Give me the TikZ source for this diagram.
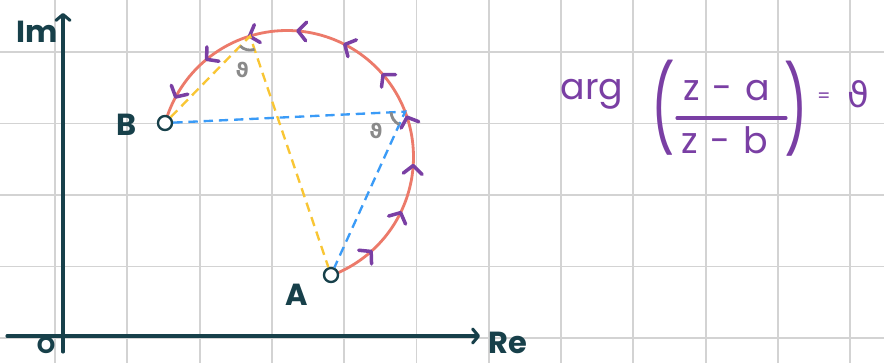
\documentclass[tikz,border=0pt]{standalone}
\usepackage{fontspec}
\setmainfont{Poppins}
\newfontfamily\thetafont{DejaVu Sans}
\usepackage{graphicx}
\usepackage{tikz}
\usetikzlibrary{arrows.meta, decorations.markings, angles}
\definecolor{axiscolor}{HTML}{17404A}
\definecolor{arccolor}{HTML}{EC7A6A}
\definecolor{tipcolor}{HTML}{7A3FA4}
\definecolor{chordyellow}{HTML}{F9C634}
\definecolor{chordblue}{HTML}{3A9BF7}
\definecolor{markcolor}{HTML}{8A8A8A}
\definecolor{gridcolor}{HTML}{D3D3D3}

\begin{document}
\begin{tikzpicture}[
  x=0.03cm, y=-0.03cm,
  gridline/.style={draw=gridcolor, line width=1.6pt},
  axis/.style={draw=axiscolor, line width=2.6pt, line cap=round,
    -{Straight Barb[length=5pt, width=12pt, round]}},
  axislabel/.style={text=axiscolor, font=\fontsize{26}{30}\selectfont\bfseries},
  point/.style={circle, draw=axiscolor, line width=2pt, fill=white,
    inner sep=0pt, minimum size=12pt},
  locus/.style={draw=arccolor, line width=2.4pt, postaction={decorate},
    decoration={markings, mark=between positions 0.094 and 0.95 step 0.095 with
      {\arrow{Straight Barb[length=7pt, width=16pt, line width=3pt, round, color=tipcolor]}}}},
  chord/.style={line width=2pt, dash pattern=on 8pt off 5pt},
  anglemark/.style={draw=markcolor, line width=2.4pt, angle radius=12pt,
    angle eccentricity=2.5, text=markcolor, font=\fontsize{17}{20}\thetafont\bfseries},
  formula/.style={text=tipcolor, font=\fontsize{31}{36}\selectfont},
  paren/.style={text=tipcolor, font=\fontsize{44}{48}\selectfont, inner sep=0pt}
]

% centre (287,157), radius 126.5 -- all in pixels of the reference
\def\cx{287}
\def\cy{157}
\def\rad{126.5}

\useasboundingbox[fill=white] (0,0) rectangle (884,363);

% grid
\foreach \gx in {0,...,11}
  \draw[gridline] ({55+72.3*\gx},0) -- ({55+72.3*\gx},363);
\foreach \gy in {0,...,4}
  \draw[gridline] (0,{52+71.5*\gy}) -- (884,{52+71.5*\gy});

% axes
\coordinate (ybot) at (63,352);
\coordinate (ytop) at (63,13);
\coordinate (xleft) at (7,336);
\coordinate (xright) at (480,336);
\draw[axis] (ybot) -- (ytop);
\draw[axis] (xleft) -- (xright);
\node[axislabel] (im) at (37,32) {Im};
\node[axislabel] (re) at (508,343) {Re};
\node[axislabel, font=\fontsize{20}{22}\selectfont\bfseries] (origin) at (46,345) {O};

% locus: arc from A to B
\draw[locus] plot[domain=-69.5:164.4, samples=120]
  ({\cx+\rad*cos(\x)}, {\cy-\rad*sin(\x)});

% points
\node[point] (A) at (331,275) {};
\node[point] (B) at (165,123) {};
\node[axislabel] (alabel) at (297,295) {A};
\node[axislabel] (blabel) at (127,125) {B};
\coordinate (P1) at ({\cx+\rad*cos(21)}, {\cy-\rad*sin(21)});
\coordinate (P2) at ({\cx+\rad*cos(107)}, {\cy-\rad*sin(107)});

% chords
\draw[chord, draw=chordblue] (B) -- (P1) -- (A);
\draw[chord, draw=chordyellow] (B) -- (P2) -- (A);

% angles
\pic[anglemark, pic text={ϑ}] {angle=B--P1--A};
\pic[anglemark, pic text={ϑ}] {angle=B--P2--A};

% formula
\node[formula] (argtext) at (592,94) {arg};
\node[paren] (lparen) at (663,108) {\scalebox{1}[1.65]{(}};
\node[formula] (numer) at (727,91) {z\hspace{0.35em}-\hspace{0.35em}a};
\coordinate (barl) at (677,118);
\coordinate (barr) at (786,118);
\draw[tipcolor, line width=2.6pt, line cap=round] (barl) -- (barr);
\node[formula] (denom) at (725,140) {z\hspace{0.35em}-\hspace{0.35em}b};
\node[paren] (rparen) at (796,109) {\scalebox{1}[1.65]{)}};
\node[formula, font=\fontsize{16}{18}\selectfont] (equals) at (824,98) {=};
\node[formula, font=\fontsize{30}{34}\thetafont] (theta) at (858,94) {ϑ};

\end{tikzpicture}
\end{document}
